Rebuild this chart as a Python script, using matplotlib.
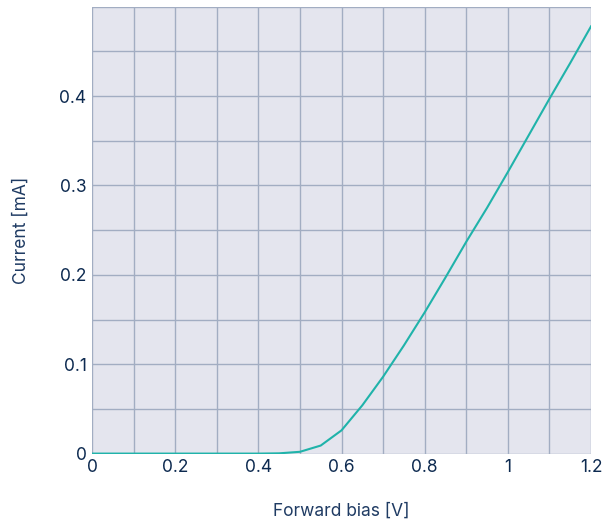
import numpy as np
import matplotlib

matplotlib.use("Agg")
import matplotlib.pyplot as plt
from matplotlib.ticker import FuncFormatter, MultipleLocator

# Diode forward characteristic
bias_v = [0.0, 0.05, 0.1, 0.15, 0.2, 0.25, 0.3, 0.35, 0.4, 0.45, 0.5, 0.55, 0.6, 0.65,
          0.7, 0.75, 0.8, 0.85, 0.9, 0.95, 1.0, 1.05, 1.1, 1.15, 1.2]
current_ma = [0.0, 0.0, 0.0, 0.0, 0.0, 0.0, 0.0, 0.0, 0.0, 0.0003, 0.002, 0.009, 0.026, 0.054,
              0.086, 0.121, 0.158, 0.197, 0.237, 0.275, 0.315, 0.356, 0.397, 0.437, 0.478]

BG = "#e4e5ee"
GRID = "#a2adc2"
LINE = "#20b3aa"
TEXT = "#0d2a50"
LABEL = "#1f3b63"

plt.rcParams["font.family"] = ["Inter", "DejaVu Sans"]

fig = plt.figure(figsize=(6.15, 5.2), dpi=100, facecolor="white")
ax = fig.add_axes([0.1496, 0.1277, 0.8114, 0.8594])
ax.set_facecolor(BG)

ax.plot(bias_v, current_ma, color=LINE, lw=1.5, zorder=3)

ax.set_xlim(0, 1.2)
ax.set_ylim(0, 0.5)
ax.xaxis.set_major_locator(MultipleLocator(0.2))
ax.xaxis.set_minor_locator(MultipleLocator(0.1))
ax.yaxis.set_major_locator(MultipleLocator(0.1))
ax.yaxis.set_minor_locator(MultipleLocator(0.05))
ax.xaxis.set_major_formatter(FuncFormatter(lambda v, p: f"{v:g}"))
ax.yaxis.set_major_formatter(FuncFormatter(lambda v, p: "" if v > 0.45 else f"{v:g}"))

ax.grid(True, which="both", color=GRID, lw=1.0)
ax.set_axisbelow(True)
for s in ax.spines.values():
    s.set_visible(False)
ax.tick_params(which="both", length=0, labelsize=12.5, labelcolor=TEXT, pad=4)

ax.set_xlabel("Forward bias [V]", fontsize=12.5, color=LABEL, labelpad=19)
ax.set_ylabel("Current [mA]", fontsize=12.5, color=LABEL, labelpad=21)

fig.savefig("out.png", dpi=100)
